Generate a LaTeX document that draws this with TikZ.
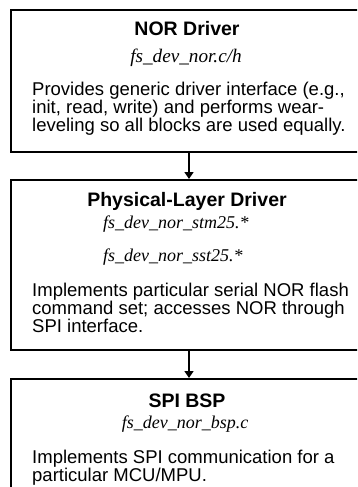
\documentclass[tikz,border=0pt]{standalone}
\usepackage{fontspec}
\setmainfont{Liberation Serif}
\newfontfamily\arial{Liberation Sans}
\usetikzlibrary{arrows.meta}
\begin{document}
\begin{tikzpicture}[x=1pt,y=-1pt,
  blk/.style={draw,line width=2pt,rectangle,minimum width=356pt,inner sep=0pt},
  head/.style={anchor=base,inner sep=0pt,font=\arial\bfseries\fontsize{19.5}{22}\selectfont},
  file/.style={anchor=base,inner sep=0pt,font=\itshape\fontsize{18}{20}\selectfont},
  body/.style={anchor=base west,align=left,inner sep=0pt,font=\arial\fontsize{18.5}{17.8}\selectfont},
  >={Triangle[length=7pt,width=9pt]}]
\useasboundingbox (0,0) rectangle (357,487);
\clip (0,0) rectangle (357,487);
% boxes
\node[blk,minimum height=142pt] (nor) at (189,81) {};
\node[blk,minimum height=170pt] (phy) at (189,265) {};
\node[blk,minimum height=142pt] (bsp) at (189,450) {};
% NOR driver
\node[head] (norhead) at (187,36) {NOR Driver};
\node[file,font=\itshape\fontsize{19.2}{20}\selectfont] (norfile) at (186,63) {fs\_dev\_nor.c/h};
\node[body] (nortext) at (32,131) {Provides generic driver interface (e.g.,\\init, read, write) and performs wear-\\leveling so all blocks are used equally.};
% physical layer
\node[head] (phyhead) at (187,206) {Physical-Layer Driver};
\node[file,anchor=base west] (phyfile1) at (103,228) {fs\_dev\_nor\_stm25.*};
\node[file,anchor=base west] (phyfile2) at (103,261) {fs\_dev\_nor\_sst25.*};
\node[body] (phytext) at (32,332) {Implements particular serial NOR flash\\command set; accesses NOR through\\SPI interface.};
% BSP
\node[head] (bsphead) at (187,407) {SPI BSP};
\node[file] (bspfile) at (185,428) {fs\_dev\_nor\_bsp.c};
\node[body] (bsptext) at (32,481) {Implements SPI communication for a\\particular MCU/MPU.};
% arrows
\draw[->,line width=1.5pt] (nor.south) -- (phy.north);
\draw[->,line width=1.5pt] (phy.south) -- (bsp.north);
\end{tikzpicture}
\end{document}
